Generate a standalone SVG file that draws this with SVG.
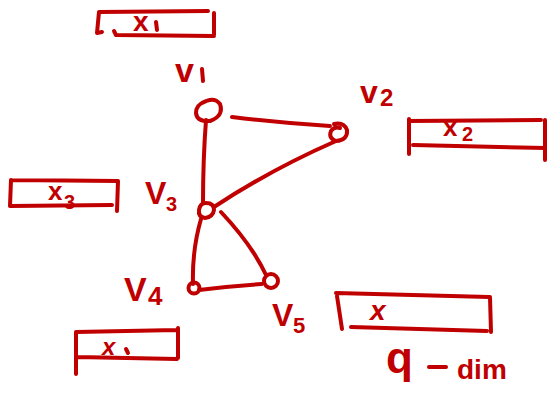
<svg xmlns="http://www.w3.org/2000/svg" width="549" height="396" viewBox="0 0 549 396">
<style>
.s{fill:none;stroke:#c00000;stroke-width:4;stroke-linecap:round;stroke-linejoin:round}
.t{fill:#c00000;font-family:"Liberation Sans",sans-serif;font-weight:bold}
</style>
<rect width="549" height="396" fill="#fff"/>
<g id="connectors" class="s">
<path d="M232,117 Q280,123 330,126"/>
<path d="M206,120 Q203,160 203,203"/>
<path d="M336,141 Q270,170 214,207"/>
<path d="M201,219 Q192,250 193,284"/>
<path d="M221,212 Q252,245 266,275"/>
<path d="M199,290 Q230,286 262,284"/>
</g>
<g id="v1"><path class="s" d="M202,103 Q214,96 220,104 Q224,116 210,121 Q197,122 196,113 Q196,105 204,102"/><text class="t" x="175" y="82" font-size="34">v</text><path class="s" d="M202,69 L203,81"/></g>
<g id="v2"><path class="s" d="M334,124 Q344,122 347,130 Q348,140 336,141 Q328,138 331,131 Q334,126 340,128"/><text class="t" x="360" y="103" font-size="32">v</text><text class="t" x="380" y="106" font-size="24">2</text></g>
<g id="v3"><path class="s" d="M206,203 Q214,203 214,210 Q213,217 205,218 Q198,217 199,210 Q200,203 206,203"/><text class="t" x="145" y="204" font-size="32">V</text><text class="t" x="166" y="211" font-size="20">3</text></g>
<g id="v4"><circle cx="194" cy="288" r="5.5" class="s" fill="#c00000"/><text class="t" x="124" y="301" font-size="34">V</text><text class="t" x="148" y="305" font-size="26">4</text></g>
<g id="v5"><circle cx="271" cy="281" r="7" class="s"/><text class="t" x="272" y="326" font-size="32">V</text><text class="t" x="293" y="333" font-size="22">5</text></g>
<g id="x1top"><path class="s" d="M99,12 L208,11 M214,13 L214,35 M116,35 L214,36 M116,35 L114,31 M99,12 L97,33 L102,32"/><text class="t" x="133" y="31" font-size="28">x</text><path class="s" d="M156,22 L157,30"/></g>
<g id="x2"><path class="s" d="M409,121 L541,120 M409,119 L409,154 M413,145 L545,148 M545,120 L545,160"/><text class="t" x="443" y="136" font-size="26">x</text><text class="t" x="462" y="141" font-size="20">2</text></g>
<g id="x3"><path class="s" d="M11,180 L118,181 M118,181 L117,211 M11,180 L10,206 L112,205"/><text class="t" x="48" y="200" font-size="26">x</text><text class="t" x="64" y="209" font-size="20">3</text></g>
<g id="x1bottom"><path class="s" d="M76,332 L177,330 M76,332 L76,374 M77,357 L177,359 M178,328 L178,358"/><text class="t" x="102" y="355" font-size="24" font-style="italic">x</text><path class="s" d="M126,349 L128,353"/></g>
<g id="x"><path class="s" d="M336,293 L489,297 M490,297 L491,332 M337,296 L342,329 M351,327 L487,331"/><text class="t" x="370" y="320" font-size="28" font-style="italic">x</text></g>
<g id="qdim"><text class="t" x="386" y="373" font-size="44">q</text><path class="s" d="M429,367 L446,367"/><text class="t" x="457" y="379" font-size="28">dim</text></g>
</svg>
